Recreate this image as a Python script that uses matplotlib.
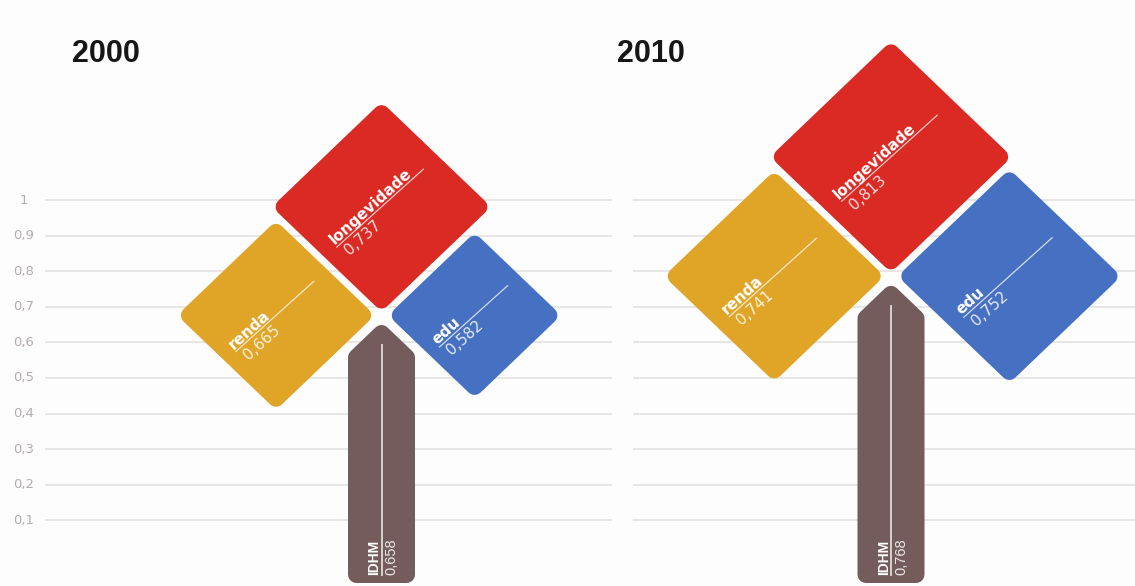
import matplotlib
matplotlib.use("Agg")
import matplotlib.pyplot as plt
from matplotlib.patches import Polygon
from matplotlib import font_manager
import numpy as np

# IDHM e suas dimensões
anos = ["2000", "2010"]
renda = [0.665, 0.741]
longevidade = [0.737, 0.813]
edu = [0.582, 0.752]
idhm = [0.658, 0.768]

grade_valores = [0.1, 0.2, 0.3, 0.4, 0.5, 0.6, 0.7, 0.8, 0.9, 1.0]
grade_rotulos = ["0,1", "0,2", "0,3", "0,4", "0,5", "0,6", "0,7", "0,8", "0,9", "1"]

COR_RENDA = "#e0a426"
COR_LONG = "#db2a24"
COR_EDU = "#4670c2"
COR_IDHM = "#735c5b"

nomes = {f.name for f in font_manager.fontManager.ttflist}
if "Liberation Sans Narrow" in nomes:
    ESTREITA, TAM_TITULO, TAM_IDHM = "Liberation Sans Narrow", 24, 11
else:
    ESTREITA, TAM_TITULO, TAM_IDHM = "Liberation Sans", 22, 10

W, H = 1135, 586
PX_X, PX_Y = 372.0, 356.0          # pixels por unidade em x e em y
fig = plt.figure(figsize=(W / 100, H / 100), dpi=100)
fig.patch.set_facecolor("#fdfdfd")
ax = fig.add_axes([0, 0, 1, 1])
ax.set_xlim(0, W / PX_X)
ax.set_ylim(-30 / PX_Y, 556 / PX_Y)
ax.axis("off")

K = 0.80          # diagonal do losango por unidade de índice
R = 8.5           # raio dos cantos, px
FOLGA_X = 0.0175
FOLGA_Y = 0.010
ANG = 42.0


def px(dx, dy):
    return dx / PX_X, dy / PX_Y


def forma_arredondada(pts, r_px, cor, z=3):
    p = np.array([[x * PX_X, y * PX_Y] for x, y in pts])
    n = len(p)
    linhas = []
    for i in range(n):
        a, b = p[i], p[(i + 1) % n]
        t = (b - a) / np.linalg.norm(b - a)
        dentro = np.array([-t[1], t[0]])
        linhas.append((a + dentro * r_px, t))
    novos = []
    for i in range(n):
        (p1, t1), (p2, t2) = linhas[i - 1], linhas[i]
        s, _ = np.linalg.solve(np.column_stack([t1, -t2]), p2 - p1)
        novos.append(p1 + s * t1)
    novos = np.array(novos) / [PX_X, PX_Y]
    ax.add_patch(Polygon(novos, closed=True, fc=cor, ec=cor, lw=2 * r_px * 0.72,
                         joinstyle="round", zorder=z))


def losango(cx, cy, v, cor, nome):
    h = K * v / 2
    forma_arredondada([(cx, cy - h), (cx + h, cy), (cx, cy + h), (cx - h, cy)], R, cor)
    s = h * (PX_X + PX_Y) / 2 / np.sqrt(2)
    d = np.array([np.cos(np.radians(ANG)), np.sin(np.radians(ANG))])
    nrm = np.array([-d[1], d[0]])
    ini = d * (-0.80 * s)
    fim = d * (0.75 * s)
    x0, y0 = px(*ini)
    x1, y1 = px(*fim)
    ax.plot([cx + x0, cx + x1], [cy + y0, cy + y1], color="white", lw=0.9,
            alpha=0.75, zorder=4, solid_capstyle="butt")
    ox, oy = px(*(ini + nrm * 3))
    ax.text(cx + ox, cy + oy, nome, rotation=ANG, rotation_mode="anchor",
            ha="left", va="baseline", color="white", fontsize=11,
            fontweight="bold", zorder=5)
    ox, oy = px(*(ini + d * 4 - nrm * 3))
    ax.text(cx + ox, cy + oy, f"{v:.3f}".replace(".", ","), rotation=ANG,
            rotation_mode="anchor", ha="left", va="top", color="white",
            alpha=0.85, fontsize=11, zorder=5)


def tronco(xc, v):
    meia = 33.5 / PX_X
    base = -27 / PX_Y
    ombro = v - meia
    forma_arredondada([(xc - meia, base), (xc + meia, base), (xc + meia, ombro),
                       (xc, v), (xc - meia, ombro)], R, COR_IDHM)
    y_txt = -19 / PX_Y
    ax.plot([xc, xc], [v - 0.065, y_txt], color="#d8d0d0", lw=1.4, zorder=4)
    ax.text(xc - 3 / PX_X, y_txt, "IDHM", rotation=90, rotation_mode="anchor",
            ha="left", va="baseline", color="white", fontsize=TAM_IDHM,
            fontweight="bold", family=ESTREITA, zorder=5)
    ax.text(xc + 3 / PX_X, y_txt, f"{v:.3f}".replace(".", ","), rotation=90,
            rotation_mode="anchor", ha="left", va="top", color="white",
            alpha=0.85, fontsize=TAM_IDHM + 0.5, family=ESTREITA, zorder=5)


# linhas de grade em cada painel
ax.hlines(grade_valores, 45 / PX_X, 612 / PX_X, color="#e2dede", lw=1.1, zorder=1)
ax.hlines(grade_valores, 633 / PX_X, W / PX_X, color="#e2dede", lw=1.1, zorder=1)
for v, rot in zip(grade_valores, grade_rotulos):
    ax.text(24 / PX_X, v, rot, ha="center", va="center", color="#b4adad", fontsize=9.5)

centros_x = [381.5 / PX_X, 891 / PX_X]
titulos_x = [72 / PX_X, 617.5 / PX_X]
for i, ano in enumerate(anos):
    cx = centros_x[i]
    cy = idhm[i] + 0.018
    tronco(cx, idhm[i])
    losango(cx - FOLGA_X - K * renda[i] / 2, cy, renda[i], COR_RENDA, "renda")
    losango(cx, cy + FOLGA_Y + K * longevidade[i] / 2, longevidade[i], COR_LONG, "longevidade")
    losango(cx + FOLGA_X + K * edu[i] / 2, cy, edu[i], COR_EDU, "edu")
    ax.text(titulos_x[i], (556 - 62) / PX_Y, ano, ha="left", va="baseline",
            fontsize=TAM_TITULO, fontweight="bold", family=ESTREITA, color="#161616")

fig.savefig("out.png", dpi=100, facecolor=fig.get_facecolor())
